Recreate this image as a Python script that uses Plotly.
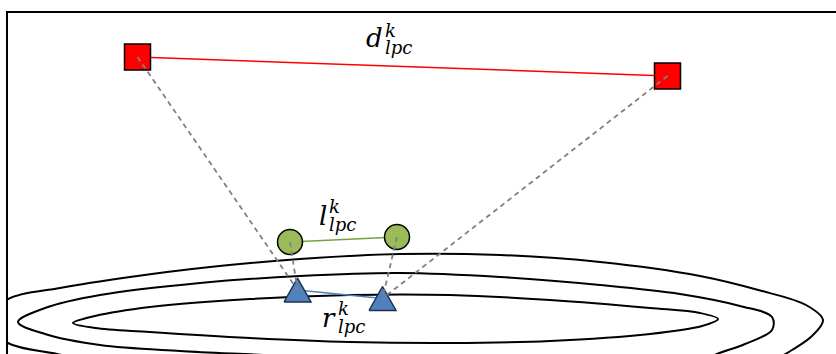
import plotly.graph_objects as go

# ---- data -------------------------------------------------------------
# red squares (far points), green circles (middle points), blue triangles (surface points)
far_x = [137.5, 667.5]
far_y = [57, 76]
mid_x = [290, 397]
mid_y = [242, 237]
low_x = [297.5, 382.5]
low_y = [290, 298.5]

# level curves of the surface (outer, middle, inner)
outer_x = [110, 57, 8, -15, 8, 60, 130, 210, 300, 400, 500, 600, 700, 762, 806, 823, 812, 792, 768]
outer_y = [364, 354, 343, 321, 299, 288, 277, 267, 259, 254, 255, 262, 276, 291, 305, 320, 336, 350, 364]
middle_x = [360, 263, 180, 100, 45, 18, 45, 100, 200, 300, 400, 500, 600, 680, 740, 772, 772, 745, 717, 693]
middle_y = [360, 355, 351, 345, 334, 322, 308, 295, 283, 276, 273, 277, 285, 294, 306, 317, 330, 344, 354, 365]
inner_x = [73, 95, 150, 250, 350, 450, 550, 650, 700, 718, 702, 650, 550, 450, 350, 250, 150, 95, 73]
inner_y = [323, 316, 307, 299, 295, 295, 300, 308, 313, 319, 326, 334, 341, 343, 342, 338, 332, 328, 323]

W, H = 836, 354
LEFT, TOP = 8, 13

fig = go.Figure()

# contours
for cx, cy in [(outer_x, outer_y), (middle_x, middle_y), (inner_x, inner_y)]:
    fig.add_trace(go.Scatter(x=cx, y=cy, mode="lines",
                             line=dict(color="black", width=2, shape="spline", smoothing=1.0),
                             hoverinfo="skip"))

# connecting lines between pairs
fig.add_trace(go.Scatter(x=far_x, y=far_y, mode="lines",
                         line=dict(color="#FF0000", width=1.5), hoverinfo="skip"))
fig.add_trace(go.Scatter(x=mid_x, y=mid_y, mode="lines",
                         line=dict(color="#77A043", width=1.5), hoverinfo="skip"))
fig.add_trace(go.Scatter(x=low_x, y=low_y, mode="lines",
                         line=dict(color="#4F81BD", width=1.5), hoverinfo="skip"))

# markers
fig.add_trace(go.Scatter(x=far_x, y=far_y, mode="markers",
                         marker=dict(symbol="square", size=26, color="#FF0000",
                                     line=dict(color="black", width=1.5)),
                         hoverinfo="skip"))
fig.add_trace(go.Scatter(x=mid_x, y=mid_y, mode="markers",
                         marker=dict(symbol="circle", size=25, color="#9BBB59",
                                     line=dict(color="black", width=1.5)),
                         hoverinfo="skip"))

# triangles drawn as polygons around their centres
TRI_W, TRI_H = 27, 24
for cx, cy in zip(low_x, low_y):
    tx = [cx - TRI_W / 2, cx + TRI_W / 2, cx, cx - TRI_W / 2]
    ty = [cy + TRI_H / 2, cy + TRI_H / 2, cy - TRI_H / 2, cy + TRI_H / 2]
    fig.add_trace(go.Scatter(x=tx, y=ty, mode="lines", fill="toself",
                             fillcolor="#4F81BD",
                             line=dict(color="#1F2F4F", width=1.5),
                             hoverinfo="skip"))

# projection lines (on top)
dash_style = dict(color="#808080", width=1.8, dash="5px,4px")
for fx, fy, lx, ly in zip(far_x, far_y, low_x, low_y):
    fig.add_trace(go.Scatter(x=[fx, lx], y=[fy, ly], mode="lines",
                             line=dash_style, hoverinfo="skip"))
for mx, my, lx, ly in zip(mid_x, mid_y, low_x, low_y):
    fig.add_trace(go.Scatter(x=[mx, lx], y=[my, ly], mode="lines",
                             line=dash_style, hoverinfo="skip"))

# math labels: base letter with superscript k and subscript lpc
FONT = "DejaVu Serif"
labels = [
    ("d", 384, 38, 30.5, 47.5),
    ("l", 328, 215.5, 206.5, 224),
    ("r", 337, 318, 308.5, 326),
]
for base, x, yb, ysup, ysub in labels:
    fig.add_annotation(x=x, y=yb, text=f"<i>{base}</i>", showarrow=False,
                       xanchor="right", yanchor="middle", borderpad=0,
                       font=dict(family=FONT, size=26, color="black"))
    fig.add_annotation(x=x, y=ysup, text="<i>k</i>", showarrow=False,
                       xanchor="left", yanchor="middle", borderpad=0,
                       font=dict(family=FONT, size=18, color="black"))
    fig.add_annotation(x=x, y=ysub, text="<i>lpc</i>", showarrow=False,
                       xanchor="left", yanchor="middle", borderpad=0,
                       font=dict(family=FONT, size=18, color="black"))

fig.update_layout(
    width=W, height=H,
    margin=dict(l=LEFT, r=0, t=TOP, b=0, pad=0),
    paper_bgcolor="white", plot_bgcolor="white",
    showlegend=False,
    xaxis=dict(range=[LEFT, W], visible=True, showgrid=False, zeroline=False,
               showticklabels=False, ticks="", showline=True, linecolor="black",
               linewidth=2, side="top", fixedrange=True),
    yaxis=dict(range=[H, TOP], visible=True, showgrid=False, zeroline=False,
               showticklabels=False, ticks="", showline=True, linecolor="black",
               linewidth=2, side="left", fixedrange=True),
)

fig.write_html("out.html", config={"displayModeBar": False})
